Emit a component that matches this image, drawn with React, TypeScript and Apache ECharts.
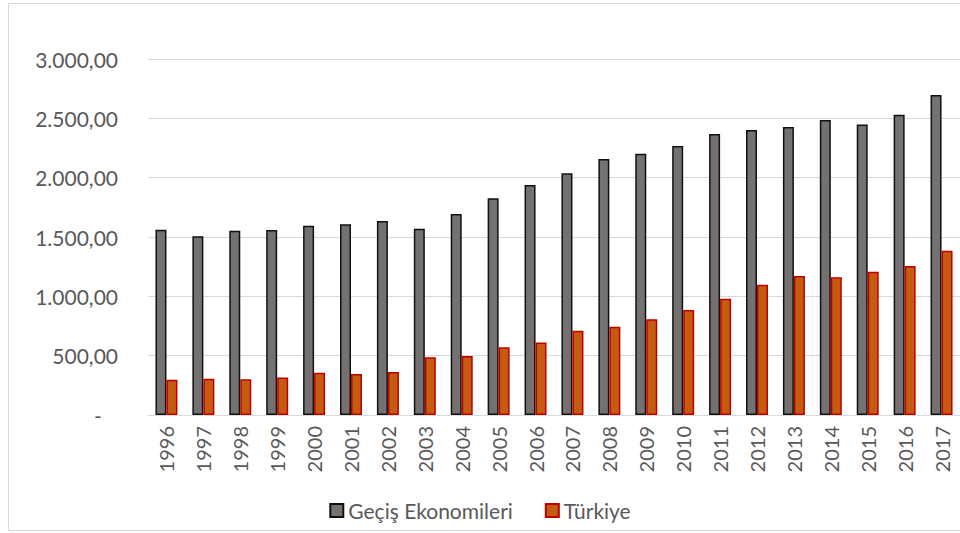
import React, { useEffect, useRef } from "react";
import * as echarts from "echarts";

const years = ["1996","1997","1998","1999","2000","2001","2002","2003","2004","2005","2006","2007","2008","2009","2010","2011","2012","2013","2014","2015","2016","2017"];
const gecis = [1562,1506,1553,1559,1595,1607,1635,1570,1694,1826,1938,2037,2157,2202,2267,2368,2402,2427,2486,2449,2531,2697];
const turkiye = [297,306,301,315,357,346,362,486,497,570,612,710,744,806,885,980,1098,1171,1160,1208,1256,1385];
const yTicks = [0,500,1000,1500,2000,2500,3000];

const fmt = (v: number) => {
  if (v === 0) return "-   ";
  const s = v.toFixed(2).split(".");
  const int = s[0].replace(/\B(?=(\d{3})+(?!\d))/g, ".");
  return int + "," + s[1];
};

export default function App() {
  const ref = useRef<HTMLDivElement>(null);
  useEffect(() => {
    if (!ref.current) return;
    const chart = echarts.init(ref.current, null, { renderer: "svg" });
    const font = "Lato, 'Open Sans', sans-serif";
    chart.setOption({
      animation: false,
      textStyle: { fontFamily: font },
      graphic: [
        {
          type: "rect",
          shape: { x: 8.5, y: 3.5, width: 960, height: 527 },
          style: { fill: "none", stroke: "#d9d9d9", lineWidth: 1 },
          silent: true,
        },
      ],
      legend: {
        data: ["Geçiş Ekonomileri", "Türkiye"],
        left: "center",
        top: 495,
        icon: "rect",
        itemWidth: 13,
        itemHeight: 13,
        itemGap: 32,
        textStyle: { color: "#595959", fontSize: 21, fontFamily: font },
      },
      grid: { left: 148, right: -4, top: 59, bottom: 118, containLabel: false },
      xAxis: {
        type: "category",
        data: years,
        axisLine: { lineStyle: { color: "#d9d9d9" } },
        axisTick: { show: false },
        axisLabel: { rotate: 90, color: "#595959", fontSize: 20, margin: 11, fontFamily: font },
      },
      yAxis: {
        type: "value",
        min: 0,
        max: 3000,
        interval: 500,
        axisLine: { show: false },
        axisTick: { show: false },
        splitLine: { lineStyle: { color: "#d9d9d9", width: 1 } },
        axisLabel: {
          color: "#595959",
          fontSize: 21,
          margin: 30,
          fontFamily: font,
          formatter: (v: number) => (yTicks.includes(v) ? fmt(v) : ""),
        },
      },
      series: [
        {
          name: "Geçiş Ekonomileri",
          type: "bar",
          data: gecis,
          barWidth: 11,
          barGap: "0%",
          itemStyle: { color: "#767171", borderColor: "#111111", borderWidth: 1.5 },
        },
        {
          name: "Türkiye",
          type: "bar",
          data: turkiye,
          barWidth: 11,
          barGap: "0%",
          itemStyle: { color: "#c55a11", borderColor: "#c00000", borderWidth: 1.5 },
        },
      ],
    });
    return () => chart.dispose();
  }, []);
  return (
    <div
      ref={ref}
      style={{ position: "absolute", left: 0, top: 0, width: 960, height: 533, background: "#fff" }}
    />
  );
}
